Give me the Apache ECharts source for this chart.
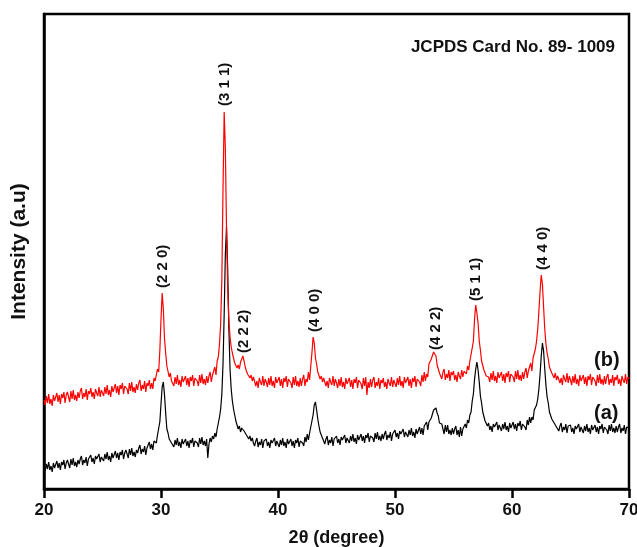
<!DOCTYPE html>
<html>
<head>
<meta charset="utf-8">
<script src="https://cdn.jsdelivr.net/npm/echarts@6/dist/echarts.min.js"></script>
<style>html,body{margin:0;padding:0;background:#fff;}#chart{width:637px;height:547px;}</style>
</head>
<body>
<div id="chart"></div>
<script>
// Scan grid: 2θ from 20° to 70° in 0.1° steps (one row below = one degree)
const angleStart = 20, angleStep = 0.1;

// Sample (a) — black trace, intensity (a.u.)
const intensityA = [
  22,18,25,20,27,19,23,17,26,21,
  22,28,21,26,19,27,24,29,20,26,
  29,25,21,30,24,31,23,27,22,29,
  25,30,33,24,29,26,32,23,30,28,
  34,27,31,25,33,30,28,35,27,32,
  32,28,35,30,37,29,33,27,36,31,
  32,38,31,36,29,37,34,39,30,36,
  39,35,31,40,34,41,33,37,32,39,
  36,41,44,35,40,37,43,34,41,39,
  47,40,45,39,48,46,46,54,54,67,
  85,102,107,94,76,60,56,50,52,46,
  46,42,49,44,51,43,47,41,50,45,
  44,50,43,48,41,49,46,51,42,48,
  50,46,42,51,45,52,44,48,43,50,
  31,45,51,47,53,50,56,52,60,66,
  72,80,95,125,175,235,262,220,160,120,
  100,88,80,74,68,66,60,63,57,61,
  63,58,60,54,56,50,53,48,51,46,
  43,48,51,42,47,44,50,41,48,46,
  50,43,47,41,49,46,44,51,43,48,
  46,42,49,44,51,43,47,41,50,45,
  44,50,43,48,41,49,46,51,42,48,
  50,46,43,52,47,55,49,56,55,68,
  74,84,87,79,70,63,57,56,51,52,
  45,50,53,44,49,46,52,43,50,48,
  53,46,50,44,52,49,47,54,46,51,
  50,46,53,48,55,47,51,45,54,49,
  49,55,48,53,46,54,51,56,47,53,
  55,51,47,56,50,57,49,53,48,55,
  50,55,58,49,54,51,57,48,55,53,
  59,52,56,50,58,55,53,60,52,57,
  56,52,59,54,61,53,57,51,60,55,
  56,62,55,61,54,63,61,67,59,67,
  68,71,73,79,80,81,76,73,66,65,
  65,60,55,64,57,64,55,59,54,61,
  55,60,63,54,59,52,62,53,60,58,
  65,61,69,66,74,77,88,95,110,120,
  127,119,107,93,86,77,75,68,69,63,
  66,59,63,57,65,62,60,67,59,64,
  62,58,65,60,67,59,63,57,66,61,
  61,67,60,65,58,66,63,68,59,65,
  66,62,59,69,64,72,66,72,69,79,
  80,84,90,100,115,133,146,138,120,104,
  92,86,77,76,70,71,66,67,62,64,
  58,63,66,57,62,59,65,56,63,61,
  64,57,61,55,63,60,58,65,57,62,
  60,56,63,58,65,57,61,55,64,59,
  58,64,57,62,55,63,60,65,56,62,
  63,59,55,64,58,65,57,61,56,63,
  57,62,65,56,61,58,64,55,62,60,
  61
];

// Sample (b) — red trace, intensity (a.u.)
const intensityB = [
  89,84,93,86,95,85,90,83,94,88,
  88,96,87,94,85,95,91,97,86,94,
  97,92,87,98,90,99,89,94,88,97,
  91,98,101,90,96,92,100,89,98,95,
  101,92,97,90,100,96,93,102,92,99,
  98,93,102,95,104,94,99,92,103,97,
  97,105,96,103,94,104,100,106,95,103,
  105,100,95,106,98,107,97,102,96,105,
  99,106,109,98,104,100,108,97,106,103,
  109,100,106,100,111,108,107,120,117,138,
  170,196,180,150,136,123,121,112,116,108,
  108,103,112,105,114,104,109,102,113,107,
  105,113,104,111,102,112,108,114,103,111,
  113,108,103,114,106,115,105,110,104,113,
  106,113,117,107,114,112,122,114,128,132,
  145,165,210,300,377,340,260,200,170,152,
  142,136,131,126,124,121,124,120,127,130,
  133,128,122,118,115,117,111,114,108,112,
  112,103,108,101,111,107,104,113,103,110,
  107,102,111,104,113,103,108,101,112,106,
  104,112,103,110,101,111,107,113,102,110,
  111,106,101,112,104,113,103,108,102,111,
  103,110,114,103,110,107,117,109,123,136,
  152,146,131,125,117,116,110,113,107,111,
  112,103,108,101,111,107,104,113,103,110,
  106,101,110,103,112,102,107,100,111,105,
  103,111,102,109,100,110,106,112,101,109,
  110,105,100,111,103,112,94,107,101,110,
  102,109,112,101,107,103,111,100,109,106,
  111,102,107,100,110,106,103,112,102,109,
  107,102,111,104,113,103,108,101,112,106,
  104,112,103,110,101,111,107,113,102,110,
  112,107,103,114,107,117,108,115,112,125,
  124,130,131,137,136,133,124,122,116,117,
  110,117,120,109,115,111,119,108,117,114,
  118,109,114,107,117,113,110,119,112,118,
  120,115,123,119,128,128,141,148,170,184,
  176,166,148,139,128,126,119,119,113,115,
  112,107,116,109,118,108,113,106,117,111,
  109,117,108,115,106,116,112,118,107,115,
  117,112,107,118,110,119,109,114,108,117,
  110,117,121,111,118,116,126,118,131,133,
  140,148,160,178,198,214,205,182,160,145,
  136,130,122,123,116,118,111,116,109,113,
  115,106,111,104,114,110,107,116,106,113,
  109,104,113,106,115,105,110,103,114,108,
  106,114,105,112,103,113,109,115,104,112,
  113,108,103,114,106,115,105,110,104,113,
  105,112,115,104,110,106,114,103,112,109,
  114,105,110,103,113,109,106,115,105,112,
  110
];

// Peak (hkl) labels
const peakLabels = ['(2 2 0)', '(3 1 1)', '(2 2 2)', '(4 0 0)', '(4 2 2)', '(5 1 1)', '(4 4 0)'];
const peakAngles = [30.13, 35.5, 37.1, 43.15, 53.5, 56.92, 62.6];
const labelBase  = [201, 383, 136, 157, 139, 188, 219];

const xTicks = [20, 30, 40, 50, 60, 70];

function pairs(vals) {
  return vals.map((v, i) => [+(angleStart + i * angleStep).toFixed(2), v]);
}

const chart = echarts.init(document.getElementById('chart'), null, {renderer: 'canvas'});
const FONT = 'Arial, "Liberation Sans", sans-serif';

chart.setOption({
  animation: false,
  backgroundColor: '#fff',
  title: {
    text: 'JCPDS Card No. 89- 1009',
    right: 17, top: 34,
    textStyle: {fontFamily: FONT, fontWeight: 'bold', fontSize: 17, color: '#111'}
  },
  grid: {left: 44, right: 8, top: 14, bottom: 58, containLabel: false, outerBoundsMode: 'none',
         show: true, borderColor: '#000', borderWidth: 2.5, backgroundColor: 'transparent'},
  xAxis: {
    type: 'value', min: xTicks[0], max: xTicks[xTicks.length - 1], interval: 10,
    name: '2θ (degree)', nameLocation: 'middle', nameGap: 40,
    nameTextStyle: {fontFamily: FONT, fontWeight: 'bold', fontSize: 18, color: '#111'},
    axisLine: {lineStyle: {color: '#000', width: 2.5}},
    axisTick: {show: true, inside: false, length: 9, lineStyle: {color: '#000', width: 2.5}},
    axisLabel: {margin: 13, fontFamily: FONT, fontWeight: 'bold', fontSize: 17, color: '#111'},
    splitLine: {show: false}
  },
  yAxis: {
    type: 'value', min: 0, max: 475,
    name: 'Intensity (a.u)', nameLocation: 'middle', nameGap: 14, nameRotate: 90,
    nameTextStyle: {fontFamily: FONT, fontWeight: 'bold', fontSize: 21, color: '#111'},
    axisLine: {show: true, lineStyle: {color: '#000', width: 2.5}},
    axisTick: {show: false},
    axisLabel: {show: false},
    splitLine: {show: false}
  },
  graphic: [
    {type: 'text', left: 594, top: 350, style: {text: '(b)', font: 'bold 20px ' + FONT, fill: '#111'}},
    {type: 'text', left: 594, top: 403, style: {text: '(a)', font: 'bold 20px ' + FONT, fill: '#111'}}
  ],
  series: [
    {
      name: '(a)', type: 'line', data: pairs(intensityA), showSymbol: false, symbol: 'none',
      lineStyle: {color: '#000', width: 1.2}, z: 2
    },
    {
      name: '(b)', type: 'line', data: pairs(intensityB), showSymbol: false, symbol: 'none',
      lineStyle: {color: '#ff0000', width: 1.2}, z: 3
    },
    {
      type: 'custom', silent: true, z: 5,
      data: peakAngles.map((a, i) => [a, labelBase[i], i]),
      renderItem: function (params, api) {
        const p = api.coord([api.value(0), api.value(1)]);
        return {
          type: 'text', x: p[0], y: p[1], rotation: Math.PI / 2,
          style: {text: peakLabels[api.value(2)], align: 'left', verticalAlign: 'middle',
                  font: 'bold 15px ' + FONT, fill: '#111'}
        };
      }
    }
  ]
});
</script>
</body>
</html>
